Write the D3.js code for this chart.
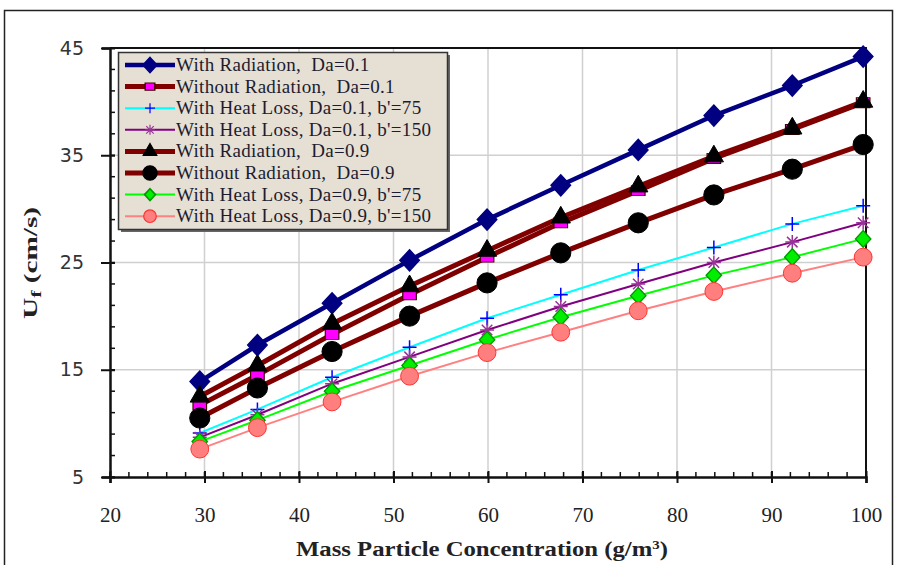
<!DOCTYPE html>
<html>
<head>
<meta charset="utf-8">
<script src="https://cdn.jsdelivr.net/npm/d3@7"></script>
<style>
  body { margin: 0; background: #fff; }
  svg { display: block; }
</style>
</head>
<body>
<div id="chart"></div>
<script>
// data
var conc = [29.5, 35.6, 43.5, 51.7, 59.9, 67.7, 75.9, 83.9, 92.2, 99.7];

var radDa01    = [13.9, 17.3, 21.2, 25.2, 29.0, 32.2, 35.5, 38.7, 41.5, 44.2];
var noRadDa01  = [11.7, 14.5, 18.3, 22.0, 25.5, 28.7, 31.7, 34.7, 37.4, 39.9];
var hl75Da01   = [9.1, 11.3, 14.3, 17.1, 19.8, 22.0, 24.3, 26.4, 28.6, 30.3];
var hl150Da01  = [8.7, 10.8, 13.7, 16.2, 18.7, 20.9, 23.0, 25.0, 26.9, 28.7];
var radDa09    = [12.5, 15.4, 19.3, 22.8, 26.1, 29.2, 32.1, 34.9, 37.5, 40.0];
var noRadDa09  = [10.5, 13.3, 16.7, 20.0, 23.1, 25.9, 28.7, 31.3, 33.7, 36.0];
var hl75Da09   = [8.3, 10.3, 13.0, 15.4, 17.8, 19.9, 21.9, 23.8, 25.5, 27.2];
var hl150Da09  = [7.6, 9.6, 12.0, 14.4, 16.6, 18.5, 20.5, 22.3, 24.0, 25.5];

var seriesNames = [
  "With Radiation,  Da=0.1",
  "Without Radiation,  Da=0.1",
  "With Heat Loss, Da=0.1, b'=75",
  "With Heat Loss, Da=0.1, b'=150",
  "With Radiation,  Da=0.9",
  "Without Radiation,  Da=0.9",
  "With Heat Loss, Da=0.9, b'=75",
  "With Heat Loss, Da=0.9, b'=150"
];
var seriesValues = [radDa01, noRadDa01, hl75Da01, hl150Da01, radDa09, noRadDa09, hl75Da09, hl150Da09];

var xTicks = [20, 30, 40, 50, 60, 70, 80, 90, 100];
var yTicks = [5, 15, 25, 35, 45];

// styles for each series (line colour, width, marker)
var styles = [
  {line: '#000080', w: 4.5, sym: 'diamond', size: 130, fill: '#000080', stroke: '#000080'},
  {line: '#800000', w: 5, sym: 'square', size: 140, fill: '#ff00ff', stroke: '#400000'},
  {line: '#00ffff', w: 2, sym: 'plus', size: 7, fill: 'none', stroke: '#0000ff'},
  {line: '#800080', w: 2, sym: 'star', size: 7, fill: 'none', stroke: '#993399'},
  {line: '#800000', w: 5, sym: 'triangle', size: 160, fill: '#000000', stroke: '#000000'},
  {line: '#800000', w: 5, sym: 'circle', size: 320, fill: '#000000', stroke: '#000000'},
  {line: '#00ff00', w: 2, sym: 'diamond', size: 80, fill: '#00ee00', stroke: '#009900'},
  {line: '#ff8080', w: 2, sym: 'circle', size: 250, fill: '#ff7f7f', stroke: '#ff3333'}
];

var serif = 'Liberation Serif, Times New Roman, serif';

var W = 897, H = 565;
var svg = d3.select('#chart').append('svg')
  .attr('width', W)
  .attr('height', H);

// outer frame
svg.append('rect')
  .attr('x', 4.5).attr('y', 10.5)
  .attr('width', 888).attr('height', 570)
  .attr('fill', 'none')
  .attr('stroke', '#222')
  .attr('stroke-width', 1.5);

var x = d3.scaleLinear().domain([20, 100]).range([110, 866]);
var y = d3.scaleLinear().domain([5, 45]).range([477, 48]);

// gridlines
svg.append('g').selectAll('line')
  .data(xTicks.slice(1, -1))
  .join('line')
  .attr('x1', d => x(d)).attr('x2', d => x(d))
  .attr('y1', y(5)).attr('y2', y(45))
  .attr('stroke', '#d0d0d0').attr('stroke-width', 1.5);
svg.append('g').selectAll('line')
  .data(yTicks.slice(1, -1))
  .join('line')
  .attr('x1', x(20)).attr('x2', x(100))
  .attr('y1', d => y(d)).attr('y2', d => y(d))
  .attr('stroke', '#d0d0d0').attr('stroke-width', 1.5);

// plot box top / right
svg.append('path')
  .attr('d', 'M' + x(20) + ',' + y(45) + 'H' + x(100) + 'V' + y(5))
  .attr('fill', 'none').attr('stroke', '#111').attr('stroke-width', 2);

// minor ticks (inside)
svg.append('g').selectAll('line')
  .data(d3.range(20, 101, 2))
  .join('line')
  .attr('x1', d => x(d)).attr('x2', d => x(d))
  .attr('y1', y(5)).attr('y2', y(5) - 5)
  .attr('stroke', '#111').attr('stroke-width', 1.5);
svg.append('g').selectAll('line')
  .data(d3.range(5, 46, 2))
  .join('line')
  .attr('x1', x(20)).attr('x2', x(20) + 5)
  .attr('y1', d => y(d)).attr('y2', d => y(d))
  .attr('stroke', '#111').attr('stroke-width', 1.5);

// axes
var xAxis = svg.append('g')
  .attr('transform', 'translate(0,' + y(5) + ')')
  .call(d3.axisBottom(x).tickValues(xTicks).tickSize(6).tickPadding(24).tickFormat(d3.format('d')));
xAxis.select('.domain').attr('stroke', '#111').attr('stroke-width', 2.5);
xAxis.selectAll('.tick line').attr('stroke', '#111').attr('stroke-width', 2).attr('y1', -6);
xAxis.selectAll('.tick text')
  .attr('font-family', serif)
  .attr('font-size', 21).attr('fill', '#222');

var yAxis = svg.append('g')
  .attr('transform', 'translate(' + x(20) + ',0)')
  .call(d3.axisLeft(y).tickValues(yTicks).tickSize(8).tickPadding(18).tickFormat(d3.format('d')));
yAxis.select('.domain').attr('stroke', '#111').attr('stroke-width', 2.5);
yAxis.selectAll('.tick line').attr('stroke', '#111').attr('stroke-width', 2).attr('x2', -9).attr('x1', 5);
yAxis.selectAll('.tick text')
  .attr('font-family', 'DejaVu Sans, Verdana, sans-serif')
  .attr('font-size', 19).attr('fill', '#333');

// axis titles
svg.append('text')
  .attr('x', 482).attr('y', 556)
  .attr('text-anchor', 'middle')
  .attr('font-family', serif)
  .attr('font-weight', 'bold').attr('font-size', 20).attr('fill', '#222')
  .attr('textLength', 372).attr('lengthAdjust', 'spacingAndGlyphs')
  .html('Mass Particle Concentration (g/m<tspan dy="-7" font-size="12">3</tspan><tspan dy="7">)</tspan>');

var yt = svg.append('text')
  .attr('transform', 'translate(37,263) rotate(-90)')
  .attr('text-anchor', 'middle')
  .attr('font-family', serif)
  .attr('font-weight', 'bold').attr('font-size', 19).attr('fill', '#222')
  .attr('textLength', 112).attr('lengthAdjust', 'spacingAndGlyphs');
yt.append('tspan').text('U');
yt.append('tspan').attr('dy', 4).attr('font-size', 14).text('f');
yt.append('tspan').attr('dy', -4).text(' (cm/s)');

// marker path
function markerPath(s) {
  if (s.sym === 'plus') {
    var a = s.size;
    return 'M' + (-a) + ',0H' + a + 'M0,' + (-a) + 'V' + a;
  }
  if (s.sym === 'star') {
    var b = s.size, c = b * 0.75;
    return 'M' + (-b) + ',0H' + b + 'M0,' + (-b) + 'V' + b +
      'M' + (-c) + ',' + (-c) + 'L' + c + ',' + c + 'M' + (-c) + ',' + c + 'L' + c + ',' + (-c);
  }
  var types = {diamond: d3.symbolDiamond, square: d3.symbolSquare, triangle: d3.symbolTriangle, circle: d3.symbolCircle};
  return d3.symbol().type(types[s.sym]).size(s.size)();
}

function markerScale(s) {
  if (s.sym === 'diamond') return ' scale(1.6,1)';
  if (s.sym === 'square') return ' scale(1.15,0.85)';
  return '';
}

var line = d3.line()
  .x((d, i) => x(conc[i]))
  .y(d => y(d));

// series
seriesValues.forEach(function(vals, k) {
  var s = styles[k];
  var g = svg.append('g');
  g.append('path')
    .attr('d', line(vals))
    .attr('fill', 'none')
    .attr('stroke', s.line)
    .attr('stroke-width', s.w)
    .attr('stroke-linejoin', 'round');
  g.selectAll('path.m')
    .data(vals)
    .join('path')
    .attr('class', 'm')
    .attr('transform', (d, i) => 'translate(' + x(conc[i]) + ',' + y(d) + ')' + markerScale(s))
    .attr('d', markerPath(s))
    .attr('fill', s.fill)
    .attr('stroke', s.stroke)
    .attr('stroke-width', (s.sym === 'plus' || s.sym === 'star') ? 1.5 : 1);
});

// legend
var lg = svg.append('g');
lg.append('rect')
  .attr('x', 121).attr('y', 55)
  .attr('width', 329).attr('height', 177)
  .attr('fill', '#666');
lg.append('rect')
  .attr('x', 118.5).attr('y', 52.5)
  .attr('width', 329).attr('height', 177)
  .attr('fill', '#e6dfd3')
  .attr('stroke', '#333')
  .attr('stroke-width', 1.5);

seriesNames.forEach(function(name, k) {
  var s = styles[k];
  var ly = 65 + k * 21.6;
  lg.append('line')
    .attr('x1', 125).attr('x2', 175)
    .attr('y1', ly).attr('y2', ly)
    .attr('stroke', s.line).attr('stroke-width', s.w);
  lg.append('path')
    .attr('transform', 'translate(150,' + ly + ')' + markerScale(s))
    .attr('d', markerPath({sym: s.sym, size: (s.sym === 'plus' || s.sym === 'star') ? 5 : s.size * 0.5}))
    .attr('fill', s.fill)
    .attr('stroke', s.stroke)
    .attr('stroke-width', 1.2);
  lg.append('text')
    .attr('x', 176).attr('y', ly + 6)
    .attr('font-family', serif)
    .attr('font-size', 19)
    .attr('letter-spacing', 0.3)
    .attr('fill', '#1c1c30')
    .style('white-space', 'pre')
    .text(name);
});
</script>
</body>
</html>
